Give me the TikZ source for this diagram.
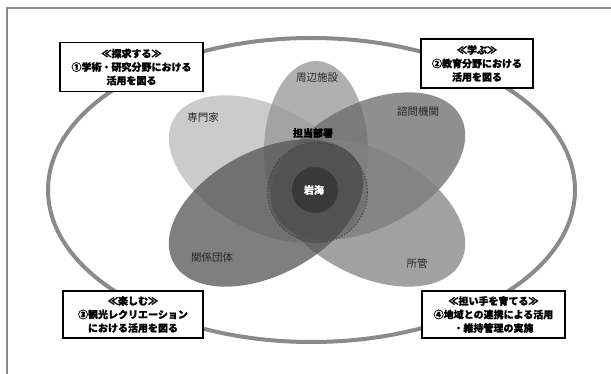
\documentclass[tikz,border=0pt]{standalone}
\usepackage{fontspec}
\setmainfont{Noto Sans CJK JP}[BoldFeatures={FakeBold=1.2}]
\usetikzlibrary{shapes.geometric}
\definecolor{ringgray}{HTML}{8A8A8A}
\definecolor{framegray}{HTML}{8C8C8C}
\definecolor{pUL}{gray}{0.73}
\definecolor{pTop}{gray}{0.59}
\definecolor{pUR}{gray}{0.41}
\definecolor{pLL}{gray}{0.33}
\definecolor{pLR}{gray}{0.51}
\begin{document}
\begin{tikzpicture}[x=1pt,y=-1pt,
  petal/.style={ellipse, inner sep=0pt, outer sep=0pt, minimum width=210pt, minimum height=124pt, fill opacity=0.75},
  goal/.style={draw=black, line width=1.1pt, fill=white, inner sep=0pt, align=center,
    font=\fontsize{10}{13.5}\selectfont\bfseries},
  lbl/.style={font=\fontsize{10.5}{12}\selectfont, text=black!85, inner sep=0pt},
  framestyle/.style={draw=framegray, line width=1.6pt}]
\useasboundingbox (0,0) rectangle (611,374);
% frame
\coordinate (fbl) at (7,374);
\coordinate (ftl) at (7,8);
\coordinate (ftr) at (611,8);
\draw[framestyle] (fbl) -- (ftl) -- (ftr);
% big ring
\node[ellipse, draw=ringgray, line width=4pt, inner sep=0pt, minimum width=527pt, minimum height=304pt] (ring) at (311.5,190) {};
% petals
\node[petal, fill=pUL, rotate=-28] (pul) at (266,169) {};
\node[petal, fill=pTop, minimum width=104pt, minimum height=182pt] (ptop) at (316,152) {};
\node[petal, fill=pUR, rotate=28] (pur) at (368,166) {};
\node[petal, fill=pLR, rotate=-28] (plr) at (368,213) {};
\node[petal, fill=pLL, rotate=28] (pll) at (266,213) {};
% centre
\node[circle, inner sep=0pt, minimum size=100pt, fill=black, fill opacity=0.12, draw=black!75, dotted, line width=1.1pt] (core) at (317.5,192.5) {};
\node[circle, inner sep=0pt, minimum size=46pt, fill=black, fill opacity=0.3] (inner) at (315,190) {};
% labels
\node[lbl] (l1) at (317,78) {周辺施設};
\node[lbl] (l2) at (203,118) {専門家};
\node[lbl] (l3) at (418,112) {諮問機関};
\node[lbl, font=\fontsize{10}{12}\selectfont\bfseries, text=black] (l4) at (313,133) {担当部署};
\node[lbl, font=\fontsize{10}{12}\selectfont\bfseries, text=white] (l5) at (314,190) {岩海};
\node[lbl] (l6) at (212,258) {関係団体};
\node[lbl] (l7) at (417,263) {所管};
% goal boxes
\node[goal, minimum width=143pt, minimum height=49pt] (g1) at (131.5,67) {≪探求する≫\\①学術・研究分野における\\活用を図る};
\node[goal, minimum width=112pt, minimum height=49pt] (g2) at (477,63.5) {≪学ぶ≫\\②教育分野における\\活用を図る};
\node[goal, minimum width=140pt, minimum height=47pt] (g3) at (133,314.5) {≪楽しむ≫\\③観光レクリエーション\\における活用を図る};
\node[goal, minimum width=143pt, minimum height=47pt] (g4) at (493.5,314.5) {≪担い手を育てる≫\\④地域との連携による活用\\・維持管理の実施};
\end{tikzpicture}
\end{document}
